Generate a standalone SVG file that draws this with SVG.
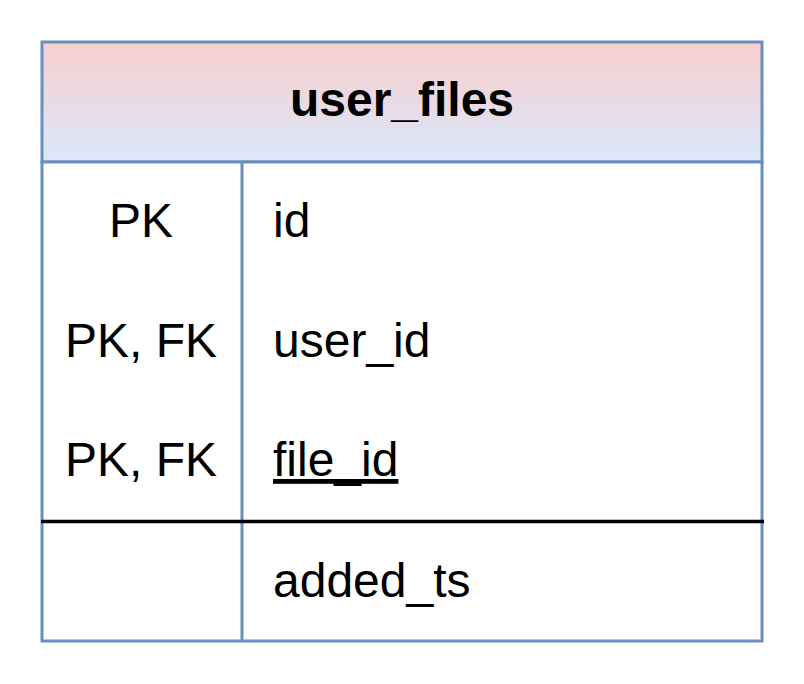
<svg xmlns="http://www.w3.org/2000/svg" width="804" height="684" viewBox="0 0 804 684">
  <defs>
    <linearGradient id="hdr" x1="0" y1="0" x2="0" y2="1">
      <stop offset="0" stop-color="#f8cecc"/>
      <stop offset="1" stop-color="#dae8fc"/>
    </linearGradient>
    <style>
      .border { fill: none; stroke: #6c8ebf; stroke-width: 3; }
      .t { font-family: "Liberation Sans", Arial, sans-serif; font-size: 48px; fill: #000000; }
      .key { text-anchor: middle; }
      .title { font-weight: bold; text-anchor: middle; }
    </style>
  </defs>
  <rect width="804" height="684" fill="#ffffff"/>
  <g id="user_files">
    <g id="header">
      <rect x="42" y="42" width="720" height="120" fill="url(#hdr)" stroke="#6c8ebf" stroke-width="3"/>
      <text class="t title" x="402" y="116">user_files</text>
    </g>
    <g id="body">
      <rect x="42" y="162" width="720" height="479" fill="#ffffff" stroke="#6c8ebf" stroke-width="3"/>
      <line class="border" x1="242" y1="162" x2="242" y2="641"/>
      <line x1="41" y1="521.5" x2="764" y2="521.5" stroke="#000000" stroke-width="3.5"/>
    </g>
    <g id="row-id">
      <text class="t key" x="141" y="237">PK</text>
      <text class="t" x="273" y="237">id</text>
    </g>
    <g id="row-user_id">
      <text class="t key" x="141" y="357">PK, FK</text>
      <text class="t" x="273" y="357">user_id</text>
    </g>
    <g id="row-file_id">
      <text class="t key" x="141" y="476">PK, FK</text>
      <text class="t" x="273" y="476" text-decoration="underline">file_id</text>
    </g>
    <g id="row-added_ts">
      <text class="t" x="273" y="597">added_ts</text>
    </g>
  </g>
  <g id="connectors"/>
</svg>
